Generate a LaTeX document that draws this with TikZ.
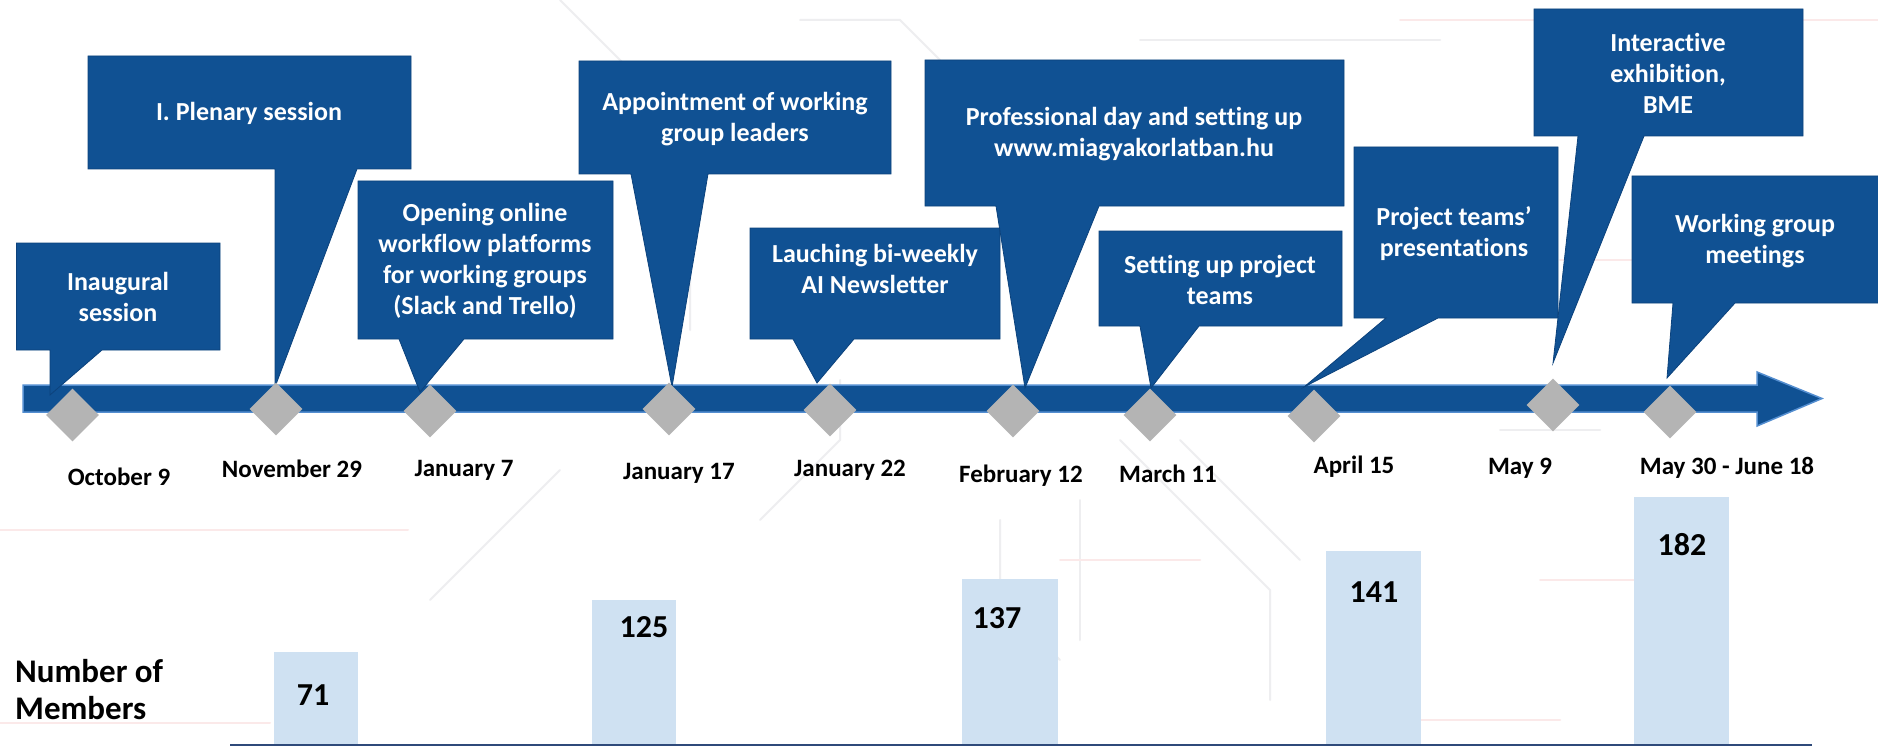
\documentclass[tikz,border=0pt]{standalone}
\usepackage{fontspec}
\setmainfont{Carlito}[Ligatures=NoCommon]
\usetikzlibrary{shapes.geometric}

\definecolor{calloutblue}{RGB}{16,81,147}
\definecolor{calloutedge}{RGB}{12,66,124}
\definecolor{baredge}{RGB}{84,142,208}
\definecolor{milestonegray}{RGB}{180,180,180}
\definecolor{memberfill}{RGB}{207,225,242}
\definecolor{baseblue}{RGB}{47,74,122}
\definecolor{tracegray}{RGB}{238,238,240}
\definecolor{tracepink}{RGB}{251,233,233}

% rectangle with a triangular pointer: left, top, right, bottom, pointer base left, pointer base right, tip
\newcommand\calloutshape[7]{%
  \path[callout] (#1,#2) -- (#3,#2) -- (#3,#4) -- (#6,#4) -- (#7) -- (#5,#4) -- (#1,#4) -- cycle;}

\begin{document}
\begin{tikzpicture}[x=1pt,y=-1pt,
  callout/.style={fill=calloutblue, draw=calloutedge, line width=0.8pt, line join=miter},
  boxtext/.style={text=white, font=\bfseries\fontsize{26}{31}\selectfont, align=center, inner sep=0pt},
  datetext/.style={font=\bfseries\fontsize{25}{30}\selectfont, inner sep=0pt},
  countext/.style={font=\bfseries\fontsize{32}{36}\selectfont, inner sep=0pt},
  milestone/.style={diamond, aspect=1, fill=milestonegray, minimum width=53pt, minimum height=53pt, inner sep=0pt},
  memberbar/.style={fill=memberfill},
  trace/.style={draw=tracegray, line width=2pt},
  ptrace/.style={draw=tracepink, line width=2pt}]

\useasboundingbox (0,0) rectangle (1878,746);
\fill[white] (0,0) rectangle (1878,746);

% faint circuit-board traces in the background
\begin{scope}[line cap=round]
  \path[ptrace] (0,530) -- (408,530);
  \path[ptrace] (0,723) -- (270,723);
  \path[ptrace] (1400,20) -- (1878,20);
  \path[ptrace] (1560,260) -- (1878,260);
  \path[trace] (560,0) -- (690,130) -- (690,330);
  \path[trace] (760,520) -- (840,440) -- (840,380);
  \path[trace] (1000,520) -- (1000,600) -- (1060,660);
  \path[trace] (1120,440) -- (1270,590) -- (1270,700);
  \path[trace] (1180,440) -- (1300,560);
  \path[trace] (1080,500) -- (1080,640);
  \path[trace] (1500,430) -- (1600,430);
  \path[trace] (430,600) -- (560,470);
  \path[trace] (1140,40) -- (1440,40);
  \path[trace] (800,20) -- (900,20) -- (940,60);
  \path[ptrace] (1060,560) -- (1200,560);
  \path[ptrace] (1420,720) -- (1560,720);
  \path[ptrace] (1540,580) -- (1640,580);
\end{scope}

% timeline arrow
\path[fill=calloutblue, draw=baredge, line width=1.5pt]
  (23,385) -- (1757,385) -- (1757,372) -- (1822,398.5) -- (1757,426) -- (1757,412) -- (23,412) -- cycle;

% pointer tips
\coordinate (t1) at (50,395);
\coordinate (t2) at (275,387);
\coordinate (t3) at (420,392);
\coordinate (t4) at (672,387);
\coordinate (t5) at (817,383);
\coordinate (t6) at (1025,388);
\coordinate (t7) at (1151,388);
\coordinate (t8) at (1304,387);
\coordinate (t9) at (1553,363);
\coordinate (t10) at (1667,378);

% callouts
\calloutshape{16.5}{243}{220}{350}{50}{102}{t1}
\calloutshape{88}{56}{411}{169}{275}{357}{t2}
\calloutshape{358}{181}{613}{339}{399}{464}{t3}
\calloutshape{579}{61}{891}{174}{631}{708}{t4}
\calloutshape{750}{228}{1000}{339}{793}{854}{t5}
\calloutshape{925}{60}{1344}{206}{996}{1099}{t6}
\calloutshape{1099}{231}{1342}{326}{1140}{1199}{t7}
\calloutshape{1354}{147}{1558}{318}{1386}{1438}{t8}
\calloutshape{1534}{9}{1803}{136}{1578}{1644}{t9}
\calloutshape{1632}{176}{1880}{303}{1673}{1735}{t10}

% milestones
\node[milestone] (d1) at (72.5,415) {};
\node[milestone] (d2) at (276,409) {};
\node[milestone] (d3) at (430,411) {};
\node[milestone] (d4) at (669,409) {};
\node[milestone] (d5) at (830,410) {};
\node[milestone] (d6) at (1013,411) {};
\node[milestone] (d7) at (1150,415) {};
\node[milestone] (d8) at (1314,416) {};
\node[milestone] (d9) at (1553,405) {};
\node[milestone] (d10) at (1670,412) {};

% callout texts
\node[boxtext] (e1) at (118,297) {Inaugural\\session};
\node[boxtext] (e2) at (249,113) {I. Plenary session};
\node[boxtext] (e3) at (485,261) {Opening online\\workflow platforms\\for working groups\\(Slack and Trello)};
\node[boxtext] (e4) at (735,119) {Appointment of working\\group leaders};
\node[boxtext] (e5) at (875,268.5) {Lauching bi-weekly\\AI Newsletter};
\node[boxtext] (e6) at (1134,134) {Professional day and setting up\\www.miagyakorlatban.hu};
\node[boxtext] (e7) at (1220,280) {Setting up project\\teams};
\node[boxtext] (e8) at (1454,234) {Project teams’\\presentations};
\node[boxtext] (e9) at (1668,73) {Interactive\\exhibition,\\BME};
\node[boxtext] (e10) at (1755,241.5) {Working group\\meetings};

% dates
\node[datetext] (l1) at (119,477) {October 9};
\node[datetext] (l2) at (292,469) {November 29};
\node[datetext] (l3) at (464,470) {January 7};
\node[datetext] (l4) at (679,473) {January 17};
\node[datetext] (l5) at (850,470) {January 22};
\node[datetext] (l6) at (1021,476) {February 12};
\node[datetext] (l7) at (1168,474) {March 11};
\node[datetext] (l8) at (1354,467) {April 15};
\node[datetext] (l9) at (1520,468) {May 9};
\node[datetext] (l10) at (1727,468) {May 30 - June 18};

% membership bars
\path[memberbar] (274,652) rectangle (358,746);
\path[memberbar] (592,600) rectangle (676,746);
\path[memberbar] (962,579) rectangle (1058,746);
\path[memberbar] (1326,551) rectangle (1421,746);
\path[memberbar] (1634,497) rectangle (1729,746);
\draw[baseblue, line width=2.5pt] (230,744.8) -- (1812,744.8);

\node[countext] (c1) at (313,695) {71};
\node[countext] (c2) at (644,627) {125};
\node[countext] (c3) at (997,618) {137};
\node[countext] (c4) at (1374,592) {141};
\node[countext] (c5) at (1682,545) {182};

\node[font=\bfseries\fontsize{33}{37}\selectfont, align=left, inner sep=0pt, anchor=west] (members) at (15,690) {Number of\\Members};

\end{tikzpicture}
\end{document}
